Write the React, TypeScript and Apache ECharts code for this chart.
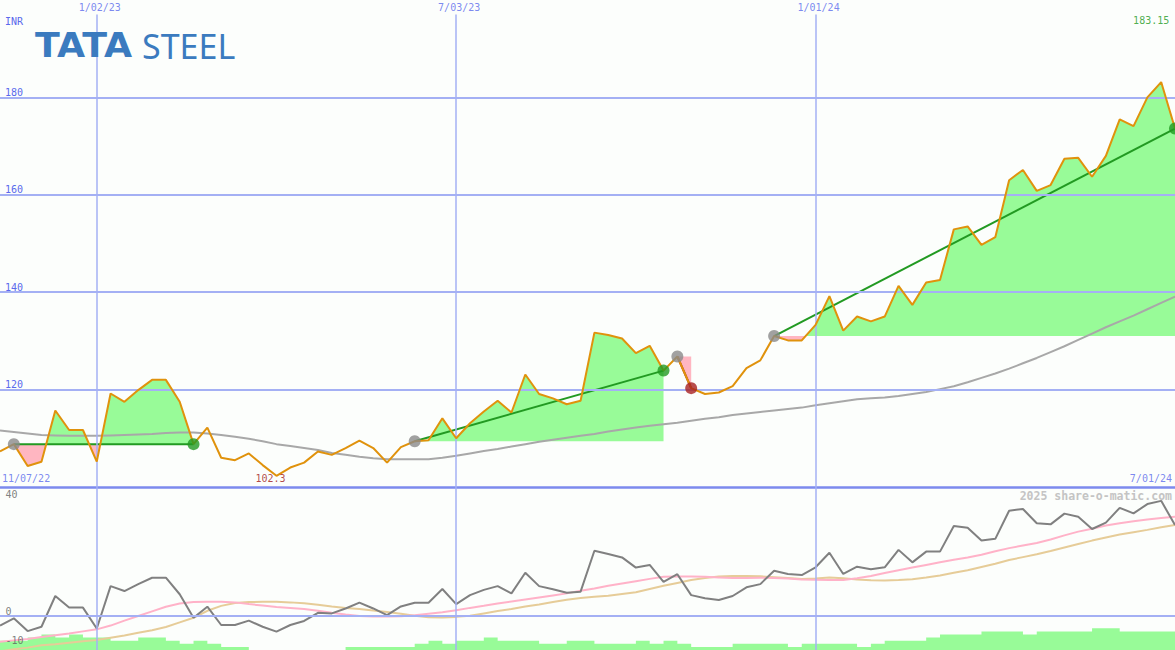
import React, { useEffect, useRef } from "react";
import * as echarts from "echarts";

// Weekly data, week index relative to the week of 2 Jan 2023
const FIRST_WEEK = -7;
const LAST_WEEK = 78;

// Weekly closing price (INR)
const price = [
  107.3, 108.8, 104.3, 105.2, 115.7, 111.7, 111.7,
  105.2, 119.2, 117.5, 119.9, 122.0, 122.0, 117.5, 108.8, 112.2, 106.0,
  105.5, 106.9, 104.5, 102.3, 104.0, 105.0, 107.3, 106.6, 108.0, 109.5,
  108.0, 105.0, 108.2, 109.4, 109.6, 114.1, 110.0, 113.1, 115.5, 117.7,
  115.3, 123.1, 119.1, 118.2, 117.0, 117.7, 131.7, 131.2, 130.5, 127.5,
  129.0, 123.9, 126.8, 120.3, 119.1, 119.4, 120.7, 124.4, 126.0, 131.0,
  130.1, 130.1, 133.3, 139.2, 132.1, 135.0, 134.0, 135.0, 141.3, 137.4,
  142.0, 142.5, 152.9, 153.5, 149.7, 151.3, 163.0, 165.1, 160.8, 162.0,
  167.4, 167.6, 163.7, 168.0, 175.5, 174.1, 180.0, 183.15, 173.6,
];

// Long moving average of price
const priceMA = [
  111.6, 111.3, 111.0, 110.7, 110.6, 110.5, 110.5,
  110.5, 110.6, 110.7, 110.8, 110.9, 111.1, 111.2, 111.2, 111.0, 110.7,
  110.3, 109.9, 109.4, 108.8, 108.4, 108.0, 107.6, 107.0, 106.6, 106.2,
  105.9, 105.7, 105.7, 105.7, 105.7, 106.0, 106.4, 106.9, 107.4, 107.8,
  108.3, 108.8, 109.3, 109.7, 110.1, 110.5, 110.9, 111.4, 111.8, 112.2,
  112.6, 112.9, 113.2, 113.6, 114.0, 114.3, 114.8, 115.1, 115.4, 115.7,
  116.0, 116.3, 116.8, 117.2, 117.6, 118.0, 118.2, 118.4, 118.7, 119.1,
  119.5, 120.1, 120.7, 121.5, 122.4, 123.3, 124.3, 125.4, 126.5, 127.7,
  128.9, 130.2, 131.5, 132.8, 134.0, 135.2, 136.5, 137.8, 139.1,
];

// Lower panel: momentum (grey) and its fast (pink) / slow (tan) averages
const momentum = [
  -3.3, -0.8, -5.2, -3.7, 6.9, 2.9, 2.9,
  -4.3, 10.3, 8.6, 11.0, 13.2, 13.2, 7.5, -0.6, 3.2, -3.1,
  -3.1, -1.6, -3.7, -5.4, -3.1, -1.7, 1.1, 0.9, 2.6, 4.6,
  2.6, 0.3, 3.3, 4.6, 4.6, 9.3, 4.1, 7.2, 9.0, 10.3,
  7.8, 14.9, 10.3, 9.2, 8.0, 8.4, 22.5, 21.4, 20.2, 16.7,
  17.6, 11.8, 14.4, 7.2, 6.1, 5.5, 6.9, 9.9, 11.0, 15.6,
  14.5, 14.1, 16.8, 21.8, 14.5, 17.0, 16.1, 16.8, 22.8, 18.5,
  22.2, 22.2, 31.0, 30.4, 26.0, 26.6, 36.3, 36.9, 32.0, 31.6,
  35.3, 34.2, 30.0, 32.2, 37.3, 35.4, 38.6, 39.7, 31.4,
];

const momentumFast = [
  -8.9, -8.4, -7.9, -7.2, -6.6, -6.0, -5.3,
  -4.6, -3.3, -1.6, 0.0, 1.6, 3.2, 4.3, 4.8, 4.9, 4.9,
  4.7, 4.1, 3.6, 3.1, 2.8, 2.4, 1.8, 1.1, 0.5, 0.0,
  -0.2, -0.2, -0.1, 0.3, 0.8, 1.3, 2.0, 2.8, 3.5, 4.3,
  5.0, 5.7, 6.4, 7.1, 7.8, 8.7, 9.5, 10.4, 11.2, 12.0,
  12.8, 13.5, 13.6, 13.6, 13.5, 13.3, 13.1, 13.1, 13.2, 13.1,
  12.9, 12.6, 12.5, 12.4, 12.4, 13.0, 13.8, 14.8, 15.8, 16.7,
  17.6, 18.5, 19.4, 20.2, 21.1, 22.3, 23.4, 24.3, 25.2, 26.4,
  27.8, 29.1, 30.1, 31.2, 32.0, 32.7, 33.3, 33.8, 34.2,
];

const momentumSlow = [
  -12.2, -11.5, -10.9, -10.1, -9.7, -9.2, -8.7,
  -8.3, -7.5, -6.7, -5.8, -4.9, -3.8, -2.2, -0.6, 1.8, 3.5,
  4.5, 4.8, 4.9, 4.9, 4.7, 4.4, 3.9, 3.3, 2.8, 2.4,
  1.9, 1.4, 0.8, 0.1, -0.4, -0.5, -0.3, 0.1, 0.9, 1.7,
  2.4, 3.3, 4.0, 4.8, 5.6, 6.2, 6.6, 7.0, 7.6, 8.2,
  9.3, 10.4, 11.4, 12.4, 13.1, 13.6, 13.8, 13.8, 13.7, 13.4,
  13.1, 12.8, 12.9, 13.3, 13.0, 12.6, 12.3, 12.2, 12.4, 12.7,
  13.3, 14.0, 14.9, 15.8, 16.9, 18.0, 19.3, 20.3, 21.3, 22.4,
  23.6, 24.8, 26.0, 27.1, 28.1, 28.9, 29.7, 30.6, 31.4,
];

// Relative weekly volume level
const volumeLevel = [
  3, 3, 4, 5, 4, 5, 4,
  4, 3, 3, 4, 4, 3, 2, 3, 2, 1,
  1, 0, 0, 0, 0, 0, 0, 0, 1, 1,
  1, 1, 1, 2, 3, 2, 3, 3, 4, 3,
  3, 3, 2, 2, 3, 3, 2, 2, 2, 3,
  2, 3, 2, 1, 1, 1, 2, 2, 2, 2,
  1, 2, 2, 2, 2, 1, 2, 3, 3, 3,
  4, 5, 5, 5, 6, 6, 6, 5, 6, 6,
  6, 6, 7, 7, 6, 6, 6, 6, 6,
];

// Trends (start week, end week)
const trendStarts = [-6, 23, 42, 49];
const trendEnds = [7, 41, 43, 78];

const dateWeeks = [0, 26, 52];
const dateLabels = ["1/02/23", "7/03/23", "1/01/24"];
const priceGridValues = [120, 140, 160, 180];
const lowerTickValues = [40, 0, -10];
const startDateLabel = "11/07/22";
const endDateLabel = "7/01/24";

const BG = "#fcfefc";
const GRID = "#a4b0f4";
const SEP = "#7c8aee";
const BLUE_TEXT = "#5a6aec";
const MONO = '"DejaVu Sans Mono", monospace';
const PRICE_COLOR = "#e0920c";
const FILL_UP = "#98fb98";
const FILL_DOWN = "#ffb6c1";
const TREND_UP = "#229a22";
const TREND_DOWN = "#a82020";
const MA_COLOR = "#a8a8a8";
const START_DOT = "#8a8a8a";

const LOWER_MIN = -11.72;
const LOWER_MAX = 44.48;
const VOL_MAX = 52.6;

const weeks = price.map((_, i) => FIRST_WEEK + i);
const priceAt = (w: number) => price[w - FIRST_WEEK];

function fillPolygons(i: number) {
  const s = trendStarts[i];
  const e = trendEnds[i];
  const base = priceAt(s);
  const pts: number[][] = [];
  for (let w = s; w <= e; w++) {
    const p = priceAt(w);
    if (w > s) {
      const pp = priceAt(w - 1);
      if ((pp - base) * (p - base) < 0) {
        pts.push([w - 1 + (base - pp) / (p - pp), base]);
      }
    }
    pts.push([w, p]);
  }
  const up = [[s, base], ...pts.map(([w, p]) => [w, Math.max(p, base)]), [e, base]];
  const down = [[s, base], ...pts.map(([w, p]) => [w, Math.min(p, base)]), [e, base]];
  return { up, down };
}

export default function App() {
  const ref = useRef<HTMLDivElement>(null);

  useEffect(() => {
    if (!ref.current) return;
    const chart = echarts.init(ref.current, undefined, { renderer: "svg" });

    let maxIdx = 0;
    let minIdx = 0;
    price.forEach((p, i) => {
      if (p > price[maxIdx]) maxIdx = i;
      if (p < price[minIdx]) minIdx = i;
    });

    const trendLines = trendStarts.map((s, i) => {
      const e = trendEnds[i];
      const up = priceAt(e) >= priceAt(s);
      return {
        type: "line",
        xAxisIndex: 0,
        yAxisIndex: 0,
        data: [
          [s, priceAt(s)],
          [e, priceAt(e)],
        ],
        showSymbol: false,
        silent: true,
        lineStyle: { color: up ? TREND_UP : TREND_DOWN, width: 2 },
        z: 4,
      };
    });

    const markers: any[] = [];
    trendStarts.forEach((s, i) => {
      const e = trendEnds[i];
      const up = priceAt(e) >= priceAt(s);
      markers.push({ value: [s, priceAt(s)], itemStyle: { color: START_DOT } });
      markers.push({ value: [e, priceAt(e)], itemStyle: { color: up ? TREND_UP : TREND_DOWN } });
    });

    const hiddenDot = { color: "rgba(0,0,0,0)" };

    const option: any = {
      animation: false,
      backgroundColor: BG,
      grid: [
        { left: 0, right: 0, top: 0, height: 487 },
        { left: 0, right: 0, top: 487, height: 163 },
      ],
      xAxis: [
        { type: "value", gridIndex: 0, min: FIRST_WEEK, max: LAST_WEEK, show: false },
        { type: "value", gridIndex: 1, min: FIRST_WEEK, max: LAST_WEEK, show: false },
      ],
      yAxis: [
        {
          type: "value",
          gridIndex: 0,
          min: 100,
          max: 200,
          interval: 20,
          axisLine: { show: false },
          axisTick: { show: false },
          splitLine: { show: false },
          axisLabel: {
            inside: true,
            margin: 5,
            color: BLUE_TEXT,
            fontFamily: MONO,
            fontSize: 10,
            verticalAlign: "bottom",
            showMinLabel: false,
            showMaxLabel: false,
          },
        },
        { type: "value", gridIndex: 1, min: LOWER_MIN, max: LOWER_MAX, show: false },
        { type: "value", gridIndex: 1, min: 0, max: VOL_MAX, show: false },
      ],
      graphic: [
        {
          type: "text",
          z: 20,
          style: {
            text: "INR",
            x: 5,
            y: 21,
            fill: BLUE_TEXT,
            font: `10px ${MONO}`,
            align: "left",
            verticalAlign: "middle",
          },
        },
        {
          type: "text",
          z: 20,
          x: 35,
          y: 46,
          scaleX: 1.1,
          style: {
            text: "TATA",
            x: 0,
            y: 0,
            fill: "#3b7bbf",
            font: 'bold 33px "DejaVu Sans", sans-serif',
            align: "left",
            verticalAlign: "middle",
          },
        },
        {
          type: "text",
          z: 20,
          style: {
            text: "STEEL",
            x: 142,
            y: 46,
            fill: "#3b7bbf",
            font: '34px "Noto Sans", sans-serif',
            align: "left",
            verticalAlign: "middle",
          },
        },
        {
          type: "text",
          z: 20,
          style: {
            text: "2025 share-o-matic.com",
            x: 1172,
            y: 496,
            fill: "#c4c4c4",
            font: `bold 11.5px ${MONO}`,
            align: "right",
            verticalAlign: "middle",
          },
        },
      ],
      series: [
        // grid lines, main panel
        {
          type: "line",
          xAxisIndex: 0,
          yAxisIndex: 0,
          data: [[FIRST_WEEK, 150]],
          showSymbol: false,
          lineStyle: { opacity: 0 },
          silent: true,
          z: 1,
          markLine: {
            silent: true,
            symbol: ["none", "none"],
            label: { show: false },
            lineStyle: { color: GRID, width: 1.5, type: "solid" },
            data: [
              ...priceGridValues.map((v) => ({ yAxis: v, lineStyle: { color: GRID, width: 2, type: "solid" } })),
              { yAxis: 100, lineStyle: { color: SEP, width: 2.5, type: "solid" } },
              ...dateWeeks.map((w) => [{ coord: [w, 197] }, { coord: [w, 100] }]),
            ],
          },
        },
        // trend fills
        {
          type: "custom",
          xAxisIndex: 0,
          yAxisIndex: 0,
          silent: true,
          z: 2,
          clip: true,
          data: trendStarts.map((s, i) => [s, priceAt(s), i]),
          encode: { x: 0, y: 1 },
          renderItem: (_params: any, api: any) => {
            const idx = api.value(2) as number;
            const { up, down } = fillPolygons(idx);
            return {
              type: "group",
              children: [
                { type: "polygon", shape: { points: up.map((p) => api.coord(p)) }, style: { fill: FILL_UP } },
                { type: "polygon", shape: { points: down.map((p) => api.coord(p)) }, style: { fill: FILL_DOWN } },
              ],
            };
          },
        },
        // moving average
        {
          type: "line",
          xAxisIndex: 0,
          yAxisIndex: 0,
          data: weeks.map((w, i) => [w, priceMA[i]]),
          showSymbol: false,
          silent: true,
          lineStyle: { color: MA_COLOR, width: 2 },
          z: 3,
        },
        ...trendLines,
        // price
        {
          type: "line",
          xAxisIndex: 0,
          yAxisIndex: 0,
          data: weeks.map((w, i) => [w, price[i]]),
          showSymbol: false,
          silent: true,
          lineStyle: { color: PRICE_COLOR, width: 2 },
          z: 5,
        },
        // trend markers
        {
          type: "scatter",
          xAxisIndex: 0,
          yAxisIndex: 0,
          symbolSize: 12,
          silent: true,
          data: markers,
          z: 6,
        },
        // date labels at top
        {
          type: "scatter",
          xAxisIndex: 0,
          yAxisIndex: 0,
          symbolSize: 1,
          itemStyle: hiddenDot,
          silent: true,
          z: 7,
          data: dateWeeks.map((w, i) => ({
            value: [w, 200],
            label: {
              show: true,
              formatter: dateLabels[i],
              position: "bottom",
              distance: 2,
              offset: [3, 0],
              color: BLUE_TEXT,
              fontFamily: MONO,
              fontSize: 10,
            },
          })),
        },
        // high / low / range labels
        {
          type: "scatter",
          xAxisIndex: 0,
          yAxisIndex: 0,
          symbolSize: 1,
          itemStyle: hiddenDot,
          silent: true,
          z: 7,
          data: [
            {
              value: [weeks[maxIdx], 200],
              label: {
                show: true,
                formatter: String(price[maxIdx]),
                position: "bottom",
                distance: 15,
                offset: [-10, 0],
                color: "#229922",
                fontFamily: MONO,
                fontSize: 10,
              },
            },
            {
              value: [weeks[minIdx], 100],
              label: {
                show: true,
                formatter: String(price[minIdx]),
                position: "top",
                distance: 3,
                offset: [-6, 0],
                color: "#a01818",
                fontFamily: MONO,
                fontSize: 10,
              },
            },
            {
              value: [FIRST_WEEK, 100],
              label: {
                show: true,
                formatter: startDateLabel,
                position: "top",
                align: "left",
                distance: 3,
                offset: [2, 0],
                color: BLUE_TEXT,
                fontFamily: MONO,
                fontSize: 10,
              },
            },
            {
              value: [LAST_WEEK, 100],
              label: {
                show: true,
                formatter: endDateLabel,
                position: "top",
                align: "right",
                distance: 3,
                offset: [-3, 0],
                color: BLUE_TEXT,
                fontFamily: MONO,
                fontSize: 10,
              },
            },
          ],
        },
        // lower panel grid lines
        {
          type: "line",
          xAxisIndex: 1,
          yAxisIndex: 1,
          data: [[FIRST_WEEK, 0]],
          showSymbol: false,
          lineStyle: { opacity: 0 },
          silent: true,
          z: 1,
          markLine: {
            silent: true,
            symbol: ["none", "none"],
            label: { show: false },
            lineStyle: { color: GRID, width: 1.5, type: "solid" },
            data: [
              { yAxis: 0, lineStyle: { color: GRID, width: 2, type: "solid" } },
              ...dateWeeks.map((w) => ({ xAxis: w })),
            ],
          },
        },
        // volume steps
        {
          type: "line",
          xAxisIndex: 1,
          yAxisIndex: 2,
          step: "end",
          data: weeks.map((w, i) => [w, volumeLevel[i]]),
          showSymbol: false,
          silent: true,
          lineStyle: { width: 0, opacity: 0 },
          areaStyle: { color: FILL_UP, opacity: 1, origin: "start" },
          z: 2,
        },
        {
          type: "line",
          xAxisIndex: 1,
          yAxisIndex: 1,
          data: weeks.map((w, i) => [w, momentumSlow[i]]),
          showSymbol: false,
          silent: true,
          lineStyle: { color: "#e6cc98", width: 2 },
          z: 3,
        },
        {
          type: "line",
          xAxisIndex: 1,
          yAxisIndex: 1,
          data: weeks.map((w, i) => [w, momentumFast[i]]),
          showSymbol: false,
          silent: true,
          lineStyle: { color: "#ffb2c8", width: 2 },
          z: 3,
        },
        {
          type: "line",
          xAxisIndex: 1,
          yAxisIndex: 1,
          data: weeks.map((w, i) => [w, momentum[i]]),
          showSymbol: false,
          silent: true,
          lineStyle: { color: "#808080", width: 2 },
          z: 4,
        },
        // lower tick labels
        {
          type: "scatter",
          xAxisIndex: 1,
          yAxisIndex: 1,
          symbolSize: 1,
          itemStyle: hiddenDot,
          silent: true,
          z: 7,
          data: lowerTickValues.map((v) => ({
            value: [FIRST_WEEK, v],
            label: {
              show: true,
              formatter: String(v),
              position: "right",
              distance: 5,
              offset: [0, -5],
              color: "#606060",
              fontFamily: MONO,
              fontSize: 10,
            },
          })),
        },
      ],
    };

    chart.setOption(option);
    return () => chart.dispose();
  }, []);

  return (
    <div
      ref={ref}
      style={{ position: "fixed", left: 0, top: 0, width: 1175, height: 650 }}
    />
  );
}
